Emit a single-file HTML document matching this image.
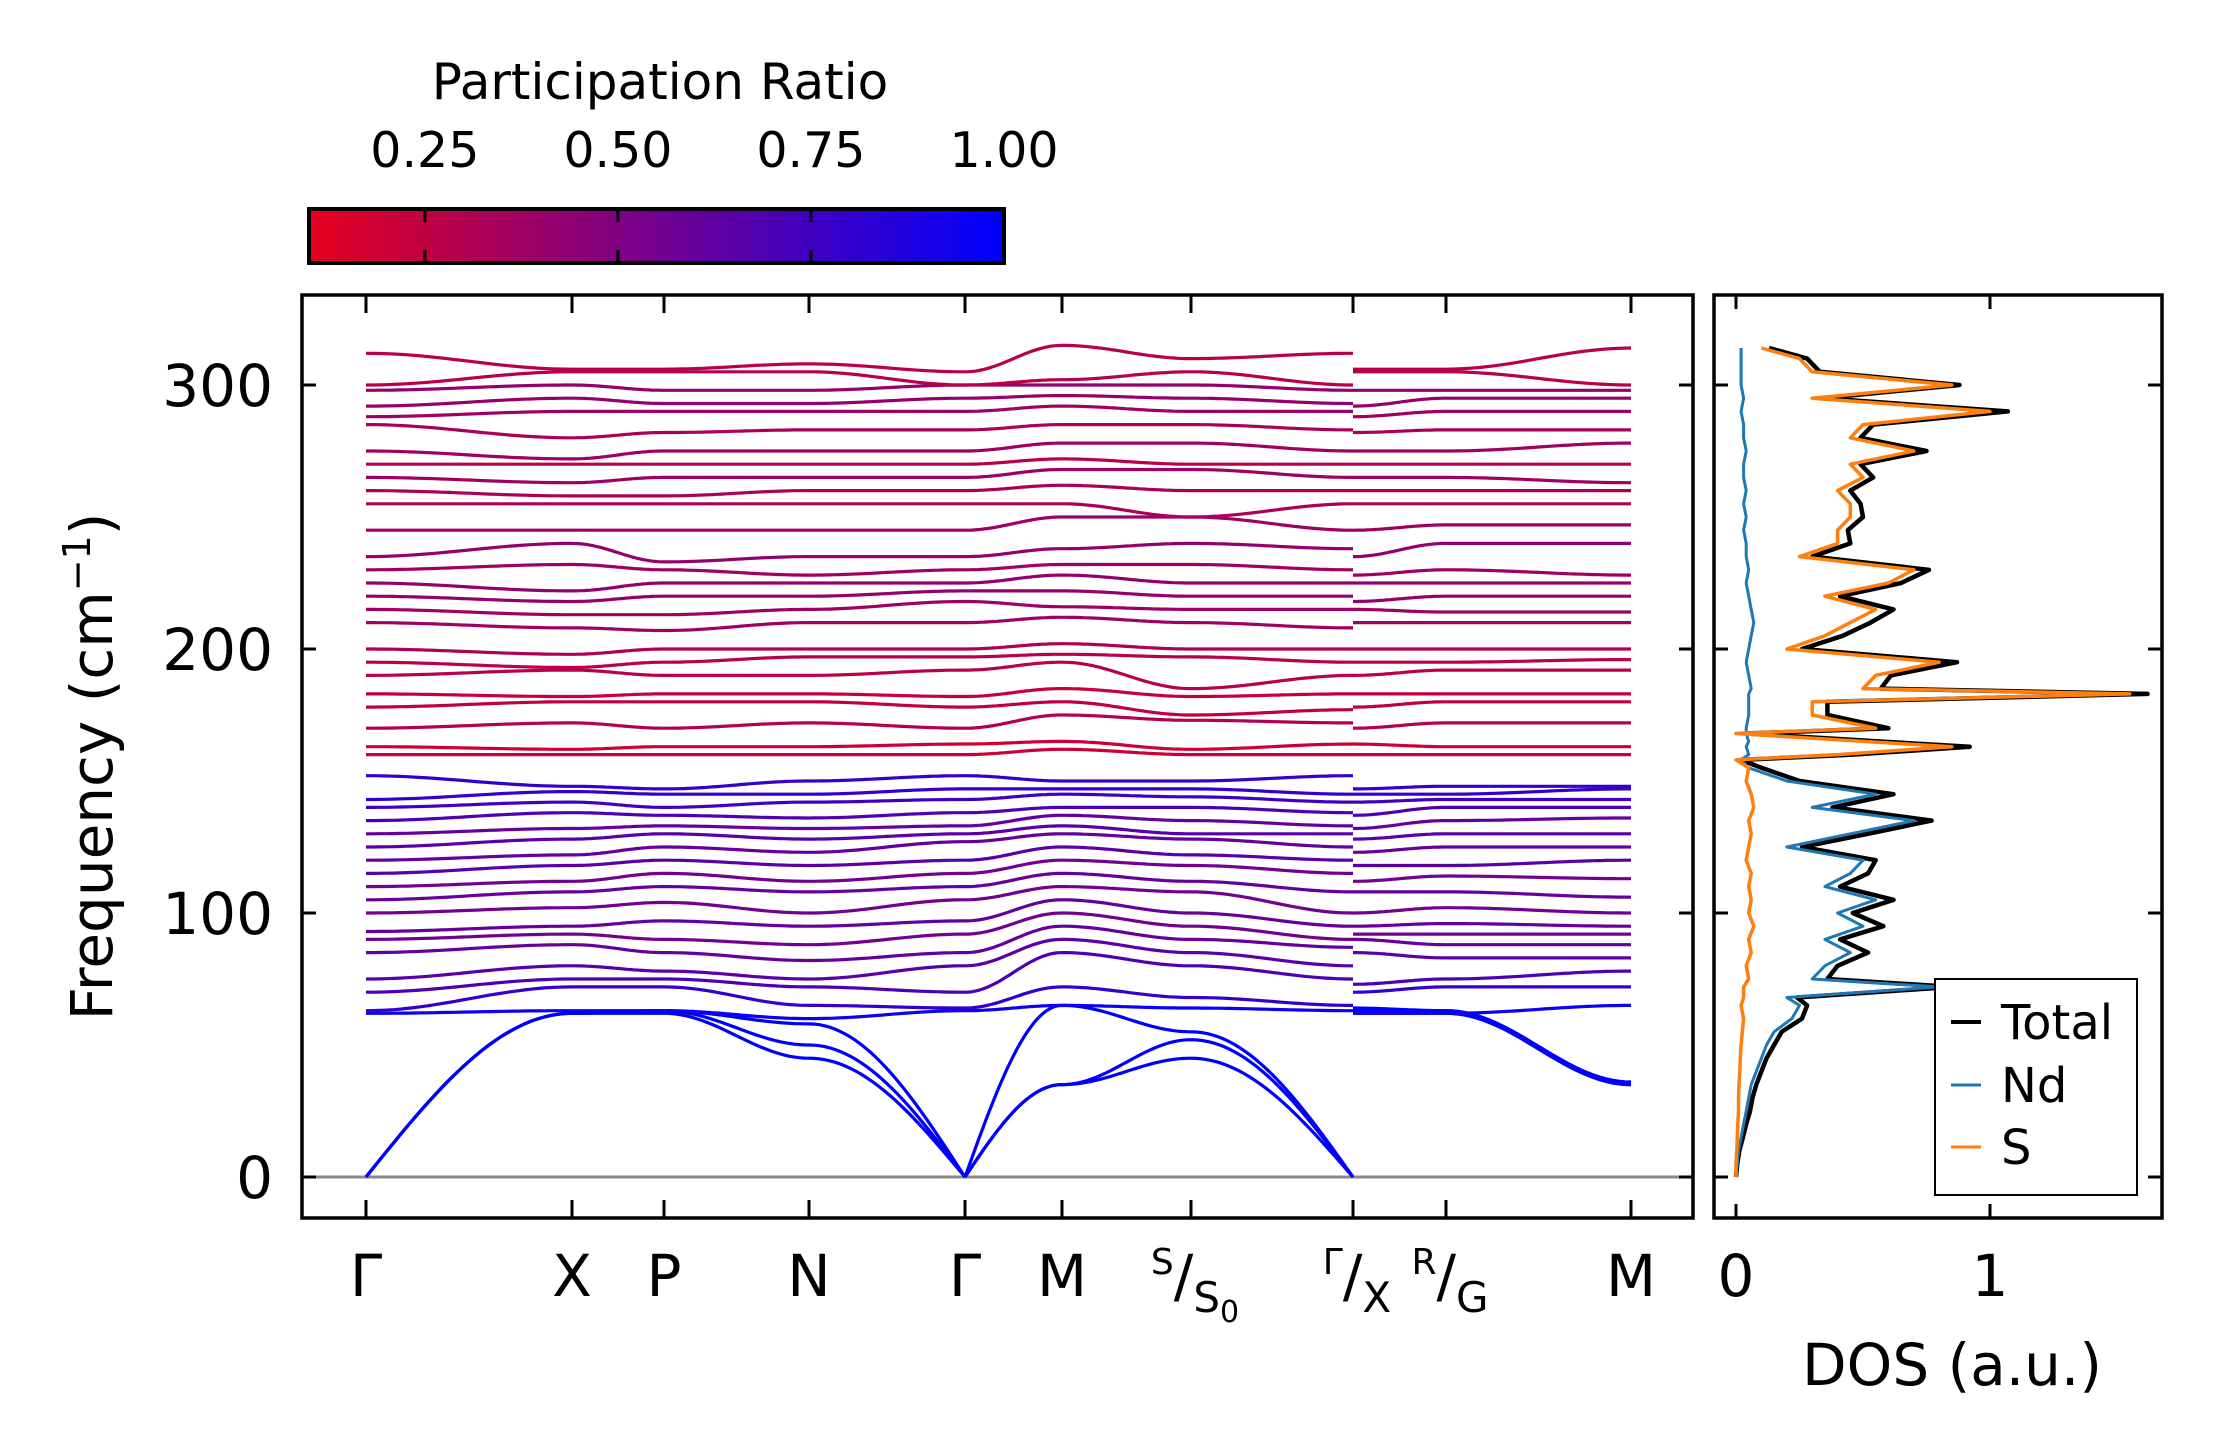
<!DOCTYPE html>
<html><head><meta charset="utf-8"><style>
html,body{margin:0;padding:0;background:#fff;}
svg{display:block;font-family:"DejaVu Sans","Liberation Sans",sans-serif;}
</style></head><body>
<svg id="fig" width="2222" height="1455" viewBox="0 0 2222 1455" xmlns="http://www.w3.org/2000/svg">
<defs>
<linearGradient id="cmap" x1="0" x2="1" y1="0" y2="0">
<stop offset="0" stop-color="rgb(230,0,30)"/><stop offset="1" stop-color="rgb(0,0,255)"/>
</linearGradient>
<clipPath id="bandclip"><rect x="302" y="295" width="1391" height="923"/></clipPath>
<clipPath id="dosclip"><rect x="1714" y="295" width="448" height="923"/></clipPath>
</defs>
<g id="colorbar">
<text x="660" y="99" font-size="50" text-anchor="middle">Participation Ratio</text>
<rect x="309" y="209" width="695" height="54" fill="url(#cmap)" stroke="#000" stroke-width="4"/>
<g id="cbticks"></g>
</g>
<g id="bands" clip-path="url(#bandclip)"></g>
<g id="axes"></g>
<g id="dos" clip-path="url(#dosclip)"></g>
<g id="labels"></g>
<g id="legend" transform="translate(-15,-8)">
<rect x="1950" y="987" width="202" height="216" fill="#fff" stroke="#000" stroke-width="2"/>
<line x1="1966" x2="1996" y1="1030" y2="1030" stroke="#000" stroke-width="4"/>
<text x="2016" y="1047" font-size="48">Total</text>
<line x1="1966" x2="1996" y1="1093" y2="1093" stroke="#1f77b4" stroke-width="3"/>
<text x="2016" y="1110" font-size="48">Nd</text>
<line x1="1966" x2="1996" y1="1155" y2="1155" stroke="#ff7f0e" stroke-width="3"/>
<text x="2016" y="1172" font-size="48">S</text>
</g>
</svg>
<script>
// ---- data ----
const kLabels = ["Γ","X","P","N","Γ","M","S","Γ","X","R","M"];
const kDist = [0, 2.06, 2.98, 4.43, 5.99, 6.96, 8.25, 9.87, 9.87, 10.80, 12.65];
const yTicks = [0,100,200,300];
const cbTicks = [0.25,0.50,0.75,1.00];
const cbTickLabels = ["0.25","0.50","0.75","1.00"];
const dosTicks = [0,1];
const bandVals = [
[0,62,62,45,0,35,45,0,62,62,35],
[0,62,63,50,0,35,52,0,63,63,36],
[0,62,63,58,0,65,55,0,64,63,35],
[62,63,63,60,63,65,64,63,62,62,65],
[63,72,72,65,64,72,68,65,70,72,72],
[70,75,75,72,70,85,80,75,73,75,78],
[75,80,78,75,80,90,85,80,85,83,83],
[85,88,85,82,85,95,90,87,90,88,88],
[90,92,90,88,92,100,95,90,92,92,92],
[93,95,97,95,97,105,100,95,95,96,95],
[100,102,104,100,105,110,108,100,100,102,100],
[105,108,110,108,110,115,112,108,108,108,106],
[110,112,115,112,115,120,118,115,112,114,113],
[115,118,120,118,120,125,122,120,118,118,120],
[120,122,125,123,127,130,128,125,123,125,125],
[125,128,130,128,130,133,130,130,128,130,130],
[130,132,133,132,133,137,135,133,132,135,136],
[135,138,137,136,138,140,140,138,137,140,140],
[140,142,140,142,143,145,144,142,142,143,143],
[143,146,145,145,147,147,147,145,145,145,147],
[152,148,147,150,152,150,150,152,147,148,148],
[160,160,160,160,160,162,160,160,160,160,160],
[163,162,163,163,164,165,162,164,164,163,163],
[170,172,170,172,170,175,173,172,170,172,172],
[178,180,180,180,178,180,175,177,178,180,180],
[183,182,183,183,182,185,182,183,183,183,183],
[190,192,190,190,192,195,185,190,190,192,192],
[195,193,195,197,197,198,197,195,195,195,196],
[200,198,200,200,200,202,200,200,200,200,200],
[210,208,207,210,210,212,210,208,210,210,210],
[215,213,213,215,218,216,215,215,215,214,214],
[220,218,220,220,222,222,220,220,218,220,220],
[225,222,225,225,225,228,225,225,225,225,225],
[230,232,230,228,230,232,232,230,228,230,228],
[235,240,233,235,235,238,240,238,235,240,240],
[245,245,245,245,245,250,250,245,245,247,247],
[255,255,255,255,255,255,250,255,255,255,255],
[260,258,258,260,260,262,260,260,260,260,260],
[265,263,265,265,265,268,268,265,265,265,263],
[270,270,270,270,270,272,270,270,270,270,270],
[275,272,275,275,275,278,278,275,275,275,278],
[285,280,282,283,283,285,285,283,282,283,283],
[288,290,290,290,290,292,290,290,288,290,290],
[292,295,293,293,295,296,295,293,292,295,295],
[298,300,298,298,300,300,300,298,298,298,298],
[300,305,305,305,300,302,305,300,305,305,300],
[312,306,306,308,305,315,310,312,306,306,314]
];
const bandPR = [1,1,1,0.95,0.8,0.7,0.65,0.6,0.55,0.6,0.55,0.6,0.55,0.65,0.6,0.65,0.6,0.7,0.75,0.8,0.8,
0.2,0.2,0.3,0.25,0.22,0.28,0.28,0.32,0.38,0.38,0.42,0.42,0.38,0.42,0.38,0.33,0.33,0.38,0.28,0.38,0.33,0.38,0.42,0.42,0.28,0.28];
const dosFreq = [0,5,10,15,20,25,30,35,40,45,50,55,60,65,68,72,75,80,85,90,95,100,105,110,115,120,125,130,135,140,145,150,155,158,160,163,165,168,170,175,180,183,185,190,195,200,205,210,215,220,225,230,235,240,245,250,255,260,265,270,275,280,285,290,295,300,305,310,314];
const dosNd = [0,0.005,0.01,0.02,0.03,0.04,0.05,0.06,0.08,0.1,0.12,0.15,0.22,0.25,0.2,0.8,0.3,0.35,0.45,0.35,0.5,0.4,0.55,0.35,0.45,0.5,0.2,0.45,0.7,0.3,0.55,0.2,0.05,0.02,0.05,0.04,0.05,0.04,0.04,0.05,0.05,0.05,0.06,0.05,0.04,0.05,0.06,0.07,0.06,0.05,0.04,0.05,0.04,0.04,0.03,0.04,0.03,0.04,0.03,0.03,0.04,0.03,0.03,0.02,0.03,0.02,0.02,0.02,0.02];
const dosS = [0,0,0.003,0.005,0.007,0.01,0.01,0.012,0.015,0.017,0.02,0.025,0.03,0.02,0.03,0.03,0.05,0.04,0.06,0.05,0.07,0.05,0.06,0.05,0.06,0.04,0.05,0.06,0.05,0.07,0.06,0.04,0.05,0,0.4,0.85,0.5,0,0.55,0.3,0.3,1.55,0.5,0.55,0.8,0.2,0.35,0.45,0.55,0.35,0.6,0.7,0.25,0.4,0.4,0.45,0.45,0.4,0.5,0.45,0.7,0.45,0.5,1.0,0.3,0.85,0.3,0.25,0.1];
const dosTotal = [0,0.005,0.013,0.027,0.04,0.055,0.065,0.08,0.1,0.12,0.15,0.18,0.26,0.28,0.24,0.85,0.36,0.4,0.52,0.41,0.58,0.46,0.62,0.41,0.52,0.55,0.26,0.52,0.77,0.38,0.62,0.25,0.1,0.02,0.46,0.92,0.56,0.04,0.6,0.36,0.36,1.62,0.57,0.61,0.87,0.26,0.42,0.53,0.62,0.41,0.65,0.76,0.3,0.45,0.44,0.5,0.49,0.45,0.54,0.49,0.75,0.49,0.54,1.07,0.34,0.88,0.33,0.28,0.13];

// ---- axes ----
const NS="http://www.w3.org/2000/svg";
const PL=302, PR=1693, PT=295, PB=1218;
const DL=1714, DR=2162;
const Y0=1177, YS=2.64;
const yF = f => Y0 - f*YS;
const kX0=366, kX1=1631;
const xK = d => kX0 + (d - kDist[0])/(kDist[kDist.length-1]-kDist[0])*(kX1-kX0);
const dosX = v => 1736 + v*254;
const VMIN=0.10;
const cbX = v => 309 + (v-VMIN)/(1.0-VMIN)*695;
function el(tag, attrs, parent){const e=document.createElementNS(NS,tag);for(const k in attrs)e.setAttribute(k,attrs[k]);parent.appendChild(e);return e;}
function prColor(p){const t=Math.max(0,Math.min(1,(p-VMIN)/(1-VMIN)));return `rgb(${Math.round(230*(1-t))},0,${Math.round(30+225*t)})`;}

const axes=document.getElementById('axes');
const labels=document.getElementById('labels');
const bg=document.getElementById('bands');
let zl=el('line',{x1:PL,x2:PR,y1:yF(0),y2:yF(0),stroke:'#888',"stroke-width":3},bg);



// bands
bandVals.forEach((b,bi)=>{
  let d='';
  for(let s=0;s<kDist.length-1;s++){
    if(s===7){continue;}
    const xa=xK(kDist[s]), xb=xK(kDist[s+1]), fa=b[s], fb=b[s+1];
    const N=30;
    for(let i=0;i<=N;i++){
      let t=i/N, u;
      if(fa===0&&fb!==0) u=Math.sin(t*Math.PI/2);
      else if(fb===0&&fa!==0) u=1-Math.cos(t*Math.PI/2);
      else u=(1-Math.cos(t*Math.PI))/2;
      const x=xa+(xb-xa)*t, y=yF(fa+(fb-fa)*u);
      d+=(i===0?'M':'L')+x.toFixed(1)+','+y.toFixed(1);
    }
  }
  const p=el('path',{d:d,fill:'none',stroke:prColor(bandPR[bi]),"stroke-width":3.2},bg);
  
  
});

// frames
let f1=el('rect',{x:PL,y:PT,width:PR-PL,height:PB-PT,fill:'none',stroke:'#000','stroke-width':3.5},axes);


let f2=el('rect',{x:DL,y:PT,width:DR-DL,height:PB-PT,fill:'none',stroke:'#000','stroke-width':3.5},axes);



// y ticks
yTicks.forEach(v=>{
  const y=yF(v);
  [[PL,PL+14],[PR,PR-14],[DL,DL+14],[DR,DR-14]].forEach(a=>el('line',{x1:a[0],x2:a[1],y1:y,y2:y,stroke:'#000','stroke-width':3},axes));
  const t=el('text',{x:273,y:y+21,'font-size':58,'text-anchor':'end'},labels);
  t.textContent=String(v);
  
  
});
// k ticks
kDist.forEach(d=>{const x=xK(d);
  el('line',{x1:x,x2:x,y1:PT,y2:PT+18,stroke:'#000','stroke-width':3},axes);
  el('line',{x1:x,x2:x,y1:PB,y2:PB-18,stroke:'#000','stroke-width':3},axes);
});
// dos ticks
dosTicks.forEach(v=>{const x=dosX(v);
  el('line',{x1:x,x2:x,y1:PT,y2:PT+14,stroke:'#000','stroke-width':3},axes);
  el('line',{x1:x,x2:x,y1:PB,y2:PB-14,stroke:'#000','stroke-width':3},axes);
  const t=el('text',{x:x,y:1296,'font-size':58,'text-anchor':'middle'},labels);
  t.textContent=String(v);
  
  
});
// colorbar ticks
const cbg=document.getElementById('cbticks');
cbTicks.forEach((v,i)=>{const x=cbX(v);
  if(v<1){el('line',{x1:x,x2:x,y1:209,y2:263,stroke:'#000','stroke-width':3,'stroke-dasharray':'13,28'},cbg);}
  const t=el('text',{x:x,y:167,'font-size':49,'text-anchor':'middle'},cbg);
  t.textContent=cbTickLabels[i];
  
  
});

// k labels
function kl(x,main,sup,sub,subsub){
  const t=el('text',{x:x,y:1296,'font-size':58,'text-anchor':'middle'},labels);
  
  
  if(!sup){t.textContent=main;return;}
  t.setAttribute('text-anchor','start');
  const t1=el('tspan',{'font-size':36,dy:-22},t);t1.textContent=sup;
  const t2=el('tspan',{'font-size':58,dy:22},t);t2.textContent='/';
  const t3=el('tspan',{'font-size':42,dy:16},t);t3.textContent=sub;
  if(subsub){const t4=el('tspan',{'font-size':30,dy:10},t);t4.textContent=subsub;}
  const w=t.getComputedTextLength();
  t.setAttribute('x',x-w/2+4);
}
kl(xK(kDist[0]),'Γ');kl(xK(kDist[1]),'X');kl(xK(kDist[2]),'P');kl(xK(kDist[3]),'N');
kl(xK(kDist[4]),'Γ');kl(xK(kDist[5]),'M');
kl(xK(kDist[6]),'','S','S','0');
kl(xK(kDist[7]),'','Γ','X');
kl(xK(kDist[9]),'','R','G');
kl(xK(kDist[10]),'M');

// axis titles
const yl=el('text',{x:0,y:0,'font-size':58,'text-anchor':'middle',transform:`translate(112,${(PT+PB)/2+10}) rotate(-90)`},labels);


yl.innerHTML='Frequency (cm<tspan font-size="38" dy="-22">−1</tspan><tspan dy="22">)</tspan>';
const xl=el('text',{x:1952,y:1385,'font-size':58,'text-anchor':'middle'},labels);
xl.textContent='DOS (a.u.)';



// DOS curves
const dg=document.getElementById('dos');
function dosLine(vals,color,w,name){
  const pts=dosFreq.map((f,i)=>dosX(vals[i]).toFixed(1)+','+yF(f).toFixed(1)).join(' ');
  const p=el('polyline',{points:pts,fill:'none',stroke:color,'stroke-width':w,'stroke-linejoin':'round'},dg);
  
  
}
dosLine(dosTotal,'#000',4.5,'dos-total');
dosLine(dosNd,'#1f77b4',3,'dos-nd');
dosLine(dosS,'#ff7f0e',3.5,'dos-s');
</script>
</body></html>
